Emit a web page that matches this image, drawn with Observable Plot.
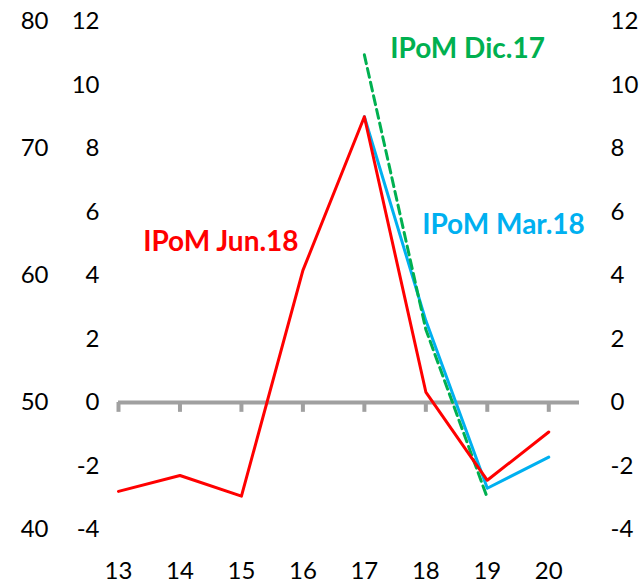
<!DOCTYPE html>
<html>
<head>
<meta charset="utf-8">
<script src="https://cdn.jsdelivr.net/npm/d3@7"></script>
<script src="https://cdn.jsdelivr.net/npm/@observablehq/plot@0.6"></script>
<style>
  html, body { margin: 0; padding: 0; background: #fff; }
</style>
</head>
<body>
<div id="chart"></div>
<script>
// Years (x categories)
const years = [13, 14, 15, 16, 17, 18, 19, 20];
// IPoM Jun.18 (red)
const jun18 = [-2.8, -2.3, -2.95, 4.16, 9.0, 0.33, -2.45, -0.93];
// IPoM Mar.18 (blue), from 17 onward
const mar18Years = [17, 18, 19, 20];
const mar18 = [9.0, 2.58, -2.7, -1.72];
// IPoM Dic.17 (green dashed), from 17 to 19
const dic17Years = [17, 18, 19];
const dic17 = [10.95, 2.3, -3.0];
// Axis ticks
const yTicks = [-4, -2, 0, 2, 4, 6, 8, 10, 12];
const outerTicks = [40, 50, 60, 70, 80];
// Series labels
const labelTexts = ["IPoM Jun.18", "IPoM Mar.18", "IPoM Dic.17"];
const labelColors = ["#FF0000", "#00B0F0", "#00B050"];
const labelX = [15.93, 17.94, 17.42];
const labelY = [5.04, 5.6, 11.12];

const toRows = (xs, ys) => xs.map((x, i) => ({x, y: ys[i]}));
const labels = labelTexts.map((t, i) => ({text: t, color: labelColors[i], x: labelX[i], y: labelY[i]}));

const fmt = d => String(d);

const chart = Plot.plot({
  width: 643,
  height: 584,
  marginLeft: 118,
  marginRight: 64,
  marginTop: 21,
  marginBottom: 55,
  style: {fontFamily: "Lato, sans-serif", fontSize: "24px", color: "#000", background: "#fff"},
  x: {domain: [13, 20.5]},
  y: {domain: [-4, 12]},
  marks: [
    Plot.axisY(yTicks, {anchor: "left", tickSize: 0, tickPadding: 19, tickFormat: fmt, fontSize: 24, label: null}),
    Plot.axisY(yTicks, {anchor: "right", tickSize: 0, tickPadding: 31, tickFormat: fmt, fontSize: 24, label: null}),
    Plot.text(outerTicks, {y: d => (d - 50) / 2.5, text: fmt, frameAnchor: "left", dx: -70, textAnchor: "end", fontSize: 24, fill: "#000"}),
    Plot.axisX(years, {tickSize: 0, tickPadding: 32, tickFormat: fmt, fontSize: 24, label: null}),
    Plot.ruleY([0], {x1: 13, x2: 20.5, stroke: "#A0A0A0", strokeWidth: 4}),
    Plot.ruleX(years, {x: d => d, y1: 0, y2: -0.31, stroke: "#A0A0A0", strokeWidth: 4}),
    Plot.line(toRows(mar18Years, mar18), {x: "x", y: "y", stroke: "#00B0F0", strokeWidth: 3}),
    Plot.line(toRows(dic17Years, dic17), {x: "x", y: "y", stroke: "#00B050", strokeWidth: 3, strokeDasharray: "9,5"}),
    Plot.line(toRows(years, jun18), {x: "x", y: "y", stroke: "#FF0000", strokeWidth: 3}),
    Plot.text(labels.slice(0, 1), {x: "x", y: "y", text: "text", fill: "color", textAnchor: "end", fontSize: 28, fontWeight: "bold"}),
    Plot.text(labels.slice(1), {x: "x", y: "y", text: "text", fill: "color", textAnchor: "start", fontSize: 28, fontWeight: "bold"})
  ]
});
document.getElementById("chart").appendChild(chart);
</script>
</body>
</html>
